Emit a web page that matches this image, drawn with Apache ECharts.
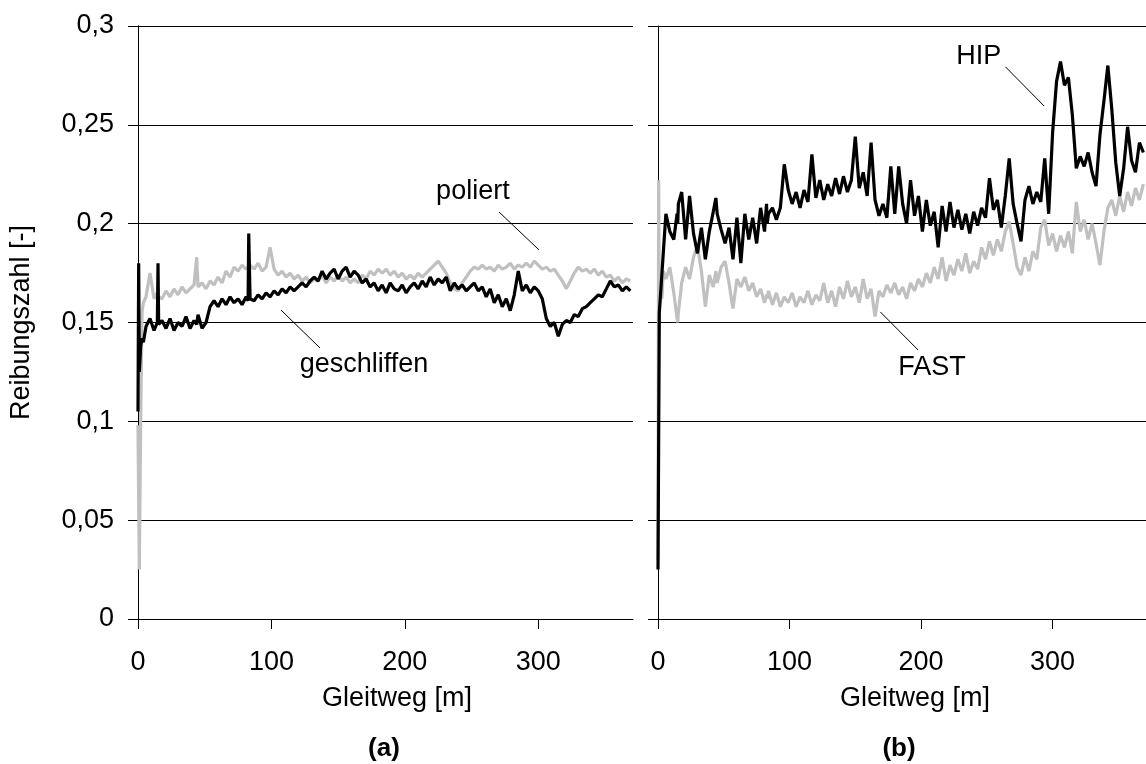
<!DOCTYPE html>
<html>
<head>
<meta charset="utf-8">
<script src="https://cdn.jsdelivr.net/npm/echarts@6/dist/echarts.min.js"></script>
<style>html,body{margin:0;padding:0;background:#fff;}#chart{width:1146px;height:764px;}</style>
</head>
<body>
<div id="chart"></div>
<script>
// Sliding distance [m] (shared sample positions)
const gleitweg = [0,0.5,1,2,3,4,6,9,12,14.5,15,15.5,18,21,24,27,30,33,36,39,42,44,45,48,51,54,57,60,63,66,69,72,75,78,81,82.5,83,84,87,90,93,96,99,102,105,108,111,114,117,120,123,126,129,132,135,138,141,144,147,150,153,156,159,162,165,168,171,174,177,180,183,186,189,192,195,198,201,204,207,210,213,216,219,222,225,228,231,234,237,240,243,246,249,252,255,258,261,264,267,270,273,276,279,282,285,288,291,294,297,300,303,306,309,312,315,318,321,324,327,330,333,336,339,342,345,348,351,354,357,360,363,366,369];

// (a) geschliffen (black)
const geschliffen = [0.105,0.18,0.125,0.138,0.142,0.14,0.148,0.152,0.146,0.15,0.18,0.149,0.151,0.147,0.152,0.146,0.150,0.148,0.153,0.147,0.151,0.149,0.154,0.147,0.150,0.158,0.161,0.158,0.162,0.159,0.163,0.160,0.162,0.159,0.163,0.161,0.195,0.162,0.161,0.164,0.162,0.165,0.163,0.166,0.164,0.167,0.165,0.168,0.166,0.168,0.170,0.168,0.171,0.173,0.171,0.176,0.172,0.175,0.177,0.172,0.176,0.178,0.173,0.176,0.174,0.170,0.172,0.168,0.170,0.166,0.169,0.165,0.170,0.167,0.166,0.169,0.165,0.168,0.170,0.167,0.171,0.168,0.173,0.169,0.172,0.170,0.173,0.166,0.170,0.167,0.169,0.166,0.168,0.170,0.166,0.168,0.163,0.167,0.160,0.164,0.158,0.162,0.156,0.164,0.176,0.166,0.169,0.165,0.168,0.166,0.162,0.152,0.148,0.150,0.143,0.149,0.151,0.150,0.154,0.153,0.157,0.158,0.160,0.162,0.164,0.163,0.167,0.171,0.168,0.169,0.166,0.168,0.166];

// (a) poliert (grey)
const poliert = [0.098,0.06,0.025,0.10,0.155,0.16,0.163,0.175,0.162,0.165,0.163,0.164,0.162,0.166,0.163,0.167,0.164,0.168,0.165,0.167,0.169,0.183,0.168,0.170,0.167,0.171,0.169,0.173,0.170,0.176,0.173,0.178,0.176,0.179,0.177,0.178,0.176,0.179,0.177,0.180,0.176,0.178,0.188,0.177,0.174,0.176,0.173,0.175,0.172,0.174,0.171,0.173,0.170,0.172,0.171,0.174,0.170,0.173,0.171,0.174,0.171,0.173,0.170,0.172,0.170,0.174,0.172,0.176,0.174,0.177,0.175,0.177,0.174,0.176,0.173,0.175,0.172,0.174,0.172,0.175,0.173,0.175,0.177,0.179,0.181,0.178,0.175,0.170,0.167,0.166,0.170,0.173,0.176,0.178,0.177,0.179,0.177,0.178,0.176,0.179,0.177,0.178,0.180,0.177,0.179,0.178,0.180,0.178,0.181,0.179,0.177,0.178,0.176,0.177,0.174,0.171,0.167,0.171,0.175,0.178,0.176,0.177,0.175,0.177,0.174,0.176,0.173,0.174,0.171,0.173,0.170,0.172,0.171];

// (b) HIP (black)
const hip = [0.025,0.09,0.155,0.165,0.175,0.185,0.205,0.196,0.192,0.205,0.2,0.21,0.216,0.192,0.214,0.195,0.185,0.198,0.182,0.196,0.206,0.213,0.205,0.197,0.190,0.198,0.182,0.203,0.18,0.205,0.192,0.203,0.19,0.208,0.196,0.21,0.2,0.205,0.208,0.202,0.208,0.23,0.217,0.210,0.216,0.208,0.217,0.211,0.235,0.213,0.222,0.212,0.220,0.214,0.223,0.215,0.224,0.216,0.222,0.244,0.218,0.226,0.214,0.241,0.212,0.204,0.210,0.203,0.229,0.205,0.229,0.210,0.200,0.222,0.204,0.214,0.196,0.212,0.199,0.206,0.188,0.209,0.196,0.211,0.198,0.207,0.197,0.205,0.195,0.206,0.199,0.208,0.203,0.223,0.207,0.212,0.198,0.214,0.233,0.210,0.200,0.191,0.212,0.219,0.210,0.216,0.211,0.233,0.205,0.246,0.272,0.282,0.270,0.274,0.255,0.228,0.234,0.229,0.236,0.226,0.219,0.245,0.262,0.280,0.258,0.231,0.214,0.228,0.249,0.232,0.226,0.241,0.236];

// (b) FAST (grey)
const fast = [0.03,0.222,0.155,0.17,0.162,0.176,0.172,0.178,0.165,0.152,0.150,0.155,0.170,0.178,0.172,0.183,0.189,0.176,0.158,0.174,0.168,0.176,0.170,0.178,0.181,0.170,0.157,0.172,0.168,0.173,0.166,0.170,0.163,0.167,0.160,0.164,0.162,0.166,0.159,0.165,0.158,0.163,0.160,0.165,0.158,0.163,0.160,0.166,0.159,0.164,0.161,0.170,0.160,0.166,0.158,0.168,0.162,0.171,0.163,0.168,0.160,0.172,0.162,0.167,0.153,0.166,0.163,0.169,0.165,0.170,0.164,0.168,0.162,0.170,0.166,0.172,0.168,0.175,0.170,0.178,0.172,0.183,0.171,0.179,0.174,0.182,0.176,0.185,0.175,0.181,0.177,0.188,0.182,0.191,0.184,0.192,0.186,0.196,0.201,0.190,0.178,0.174,0.183,0.176,0.186,0.182,0.198,0.202,0.189,0.195,0.186,0.194,0.188,0.196,0.185,0.211,0.196,0.202,0.192,0.200,0.190,0.179,0.196,0.208,0.212,0.204,0.214,0.206,0.216,0.209,0.218,0.212,0.220];

const xTicks = [0, 100, 200, 300];
const yTicks = [0, 0.05, 0.1, 0.15, 0.2, 0.25, 0.3];

const FONT = 'Liberation Sans, Arial, sans-serif';
const FS = 27;
const LW = 3.2;
const pairs = (ys) => gleitweg.map((x, i) => [x, ys[i]]);
const fmtY = (v) => String(+(+v).toFixed(2)).replace('.', ',');

function xAxisFor(idx, pad) {
  return {
    type: 'value', gridIndex: idx, min: 0, max: 371,
    name: 'Gleitweg [m]', nameLocation: 'middle', nameGap: 66,
    nameTextStyle: {fontFamily: FONT, fontSize: FS, color: '#000', padding: [0, 0, 0, pad]},
    axisLine: {show: true, onZero: false, lineStyle: {color: '#000', width: 1}},
    axisTick: {show: true, length: 10, customValues: xTicks, lineStyle: {color: '#000'}},
    axisLabel: {customValues: xTicks, fontFamily: FONT, fontSize: FS, color: '#000', margin: 30},
    splitLine: {show: false}
  };
}
function yAxisFor(idx, labels) {
  return {
    type: 'value', gridIndex: idx, min: 0, max: 0.3, interval: 0.05,
    name: labels ? 'Reibungszahl [-]' : '', nameLocation: 'middle', nameGap: 103,
    nameTextStyle: {fontFamily: FONT, fontSize: FS, color: '#000'},
    axisLine: {show: true, onZero: false, lineStyle: {color: '#000', width: 1}},
    axisTick: {show: true, length: 10, lineStyle: {color: '#000'}},
    axisLabel: {show: labels, formatter: fmtY, fontFamily: FONT, fontSize: FS, color: '#000', margin: 24},
    splitLine: {show: true, lineStyle: {color: '#000', width: 1}}
  };
}

const annoLabel = {show: true, position: 'inside', fontFamily: FONT, fontSize: FS, color: '#000'};
function note(x, y, text) {
  return {coord: [x, y], value: text, symbol: 'circle', symbolSize: 1,
          itemStyle: {color: 'rgba(0,0,0,0)'}, label: Object.assign({formatter: text}, annoLabel)};
}
function leader(x1, y1, x2, y2) {
  return [{coord: [x1, y1]}, {coord: [x2, y2]}];
}
const leaderStyle = {symbol: ['none', 'none'], silent: true, label: {show: false},
                     lineStyle: {color: '#000', width: 1, type: 'solid'}, emphasis: {disabled: true}};

const chart = echarts.init(document.getElementById('chart'), null, {renderer: 'canvas'});
chart.setOption({
  animation: false,
  backgroundColor: '#fff',
  grid: [
    {left: 138, top: 26, width: 495, height: 593},
    {left: 658, top: 26, width: 492, height: 593}
  ],
  xAxis: [xAxisFor(0, 23), xAxisFor(1, 26)],
  yAxis: [
    yAxisFor(0, true),
    yAxisFor(1, false),
    {type: 'value', gridIndex: 0, position: 'right', min: 0, max: 0.3, interval: 0.05,
     axisLine: {show: true, lineStyle: {color: '#000', width: 1}},
     axisTick: {show: false}, axisLabel: {show: false}, splitLine: {show: false}}
  ],
  graphic: [
    {type: 'text', x: 384, y: 749, style: {text: '(a)', font: 'bold 26px ' + FONT, fill: '#000', textAlign: 'center', textVerticalAlign: 'middle'}},
    {type: 'text', x: 899, y: 749, style: {text: '(b)', font: 'bold 26px ' + FONT, fill: '#000', textAlign: 'center', textVerticalAlign: 'middle'}}
  ],
  series: [
    {name: 'poliert', type: 'line', xAxisIndex: 0, yAxisIndex: 0, data: pairs(poliert),
     showSymbol: false, lineStyle: {color: '#c0c0c0', width: LW}, itemStyle: {color: '#c0c0c0'}, z: 2,
     markPoint: {data: [note(251, 0.216, 'poliert')]},
     markLine: Object.assign({data: [leader(270.6, 0.2059, 300.6, 0.1867)]}, leaderStyle)},
    {name: 'geschliffen', type: 'line', xAxisIndex: 0, yAxisIndex: 0, data: pairs(geschliffen),
     showSymbol: false, lineStyle: {color: '#000', width: LW}, itemStyle: {color: '#000'}, z: 3,
     markPoint: {data: [note(169.4, 0.1285, 'geschliffen')]},
     markLine: Object.assign({data: [leader(107.2, 0.1563, 136.4, 0.1371)]}, leaderStyle)},
    {name: 'FAST', type: 'line', xAxisIndex: 1, yAxisIndex: 1, data: pairs(fast),
     showSymbol: false, lineStyle: {color: '#c0c0c0', width: LW}, itemStyle: {color: '#c0c0c0'}, z: 2,
     markPoint: {data: [note(208.3, 0.127, 'FAST')]},
     markLine: Object.assign({data: [leader(169.1, 0.1553, 197.7, 0.1361)]}, leaderStyle)},
    {name: 'HIP', type: 'line', xAxisIndex: 1, yAxisIndex: 1, data: pairs(hip),
     showSymbol: false, lineStyle: {color: '#000', width: LW}, itemStyle: {color: '#000'}, z: 3,
     markPoint: {data: [note(243.8, 0.2843, 'HIP')]},
     markLine: Object.assign({data: [leader(264.2, 0.2793, 293.6, 0.2595)]}, leaderStyle)}
  ]
});
</script>
</body>
</html>
